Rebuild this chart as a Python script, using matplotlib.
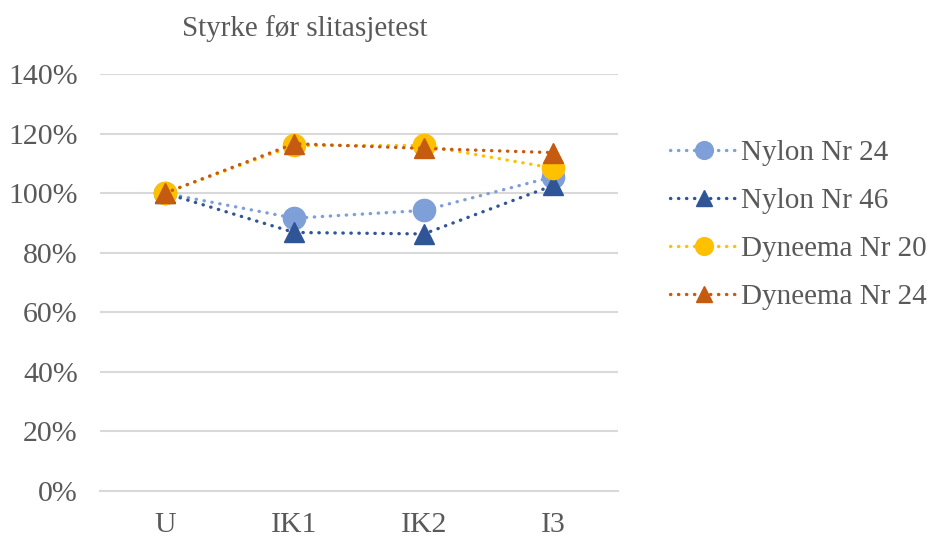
import matplotlib.pyplot as plt
from matplotlib.ticker import PercentFormatter

plt.rcParams['font.family'] = ['Liberation Serif', 'DejaVu Serif']

categories = ['U', 'IK1', 'IK2', 'I3']
nylon_24 = [100, 91.6, 94.2, 105.5]
nylon_46 = [100, 86.8, 86.3, 102.6]
dyneema_20 = [100, 116.0, 116.0, 108.4]
dyneema_24 = [100, 116.6, 115.0, 113.6]

series = [
    ('Nylon Nr 24', nylon_24, '#7f9fd8', 'o', 16),
    ('Nylon Nr 46', nylon_46, '#2f5597', '^', 15),
    ('Dyneema Nr 20', dyneema_20, '#ffc000', 'o', 16),
    ('Dyneema Nr 24', dyneema_24, '#c55a11', '^', 15),
]

fig = plt.figure(figsize=(9.34, 5.36), dpi=100)
ax = fig.add_axes([100 / 934, 45 / 536, 518 / 934, 417 / 536])

x = range(len(categories))
for name, vals, color, marker, ms in series:
    ax.plot(x, [v / 100 for v in vals], color=color, ls=(0, (0.1, 2.3)), lw=2.4,
            marker=marker, ms=ms, dash_capstyle='round', label=name, zorder=3)

ax.set_xlim(-0.5, 3.5)
ax.set_ylim(0, 1.4)
ax.set_yticks([i / 10 for i in range(0, 15, 2)])
ax.yaxis.set_major_formatter(PercentFormatter(1.0, decimals=0))
ax.set_xticks(list(x))
ax.set_xticklabels(categories)
ax.grid(axis='y', color='#d9d9d9', lw=1.5)
ax.set_axisbelow(True)
for s in ['top', 'right', 'left']:
    ax.spines[s].set_visible(False)
ax.spines['bottom'].set_color('#d9d9d9')
ax.spines['bottom'].set_linewidth(1.5)
ax.tick_params(length=0, labelsize=21.5, colors='#595959')
ax.tick_params(axis='y', pad=16)
ax.tick_params(axis='x', pad=15)

fig.text(305 / 934, 1 - 29 / 536, 'Styrke før slitasjetest', ha='center', va='center',
         fontsize=21, color='#595959')

leg = fig.legend(loc='upper left', bbox_to_anchor=(670 / 934, 1 - 140 / 536), frameon=False,
                 fontsize=21, handlelength=2.35, labelspacing=0.74, handletextpad=0.1,
                 borderaxespad=0, borderpad=0, markerscale=0.8)
for t in leg.get_texts():
    t.set_color('#595959')

fig.savefig('out.png', dpi=100)
